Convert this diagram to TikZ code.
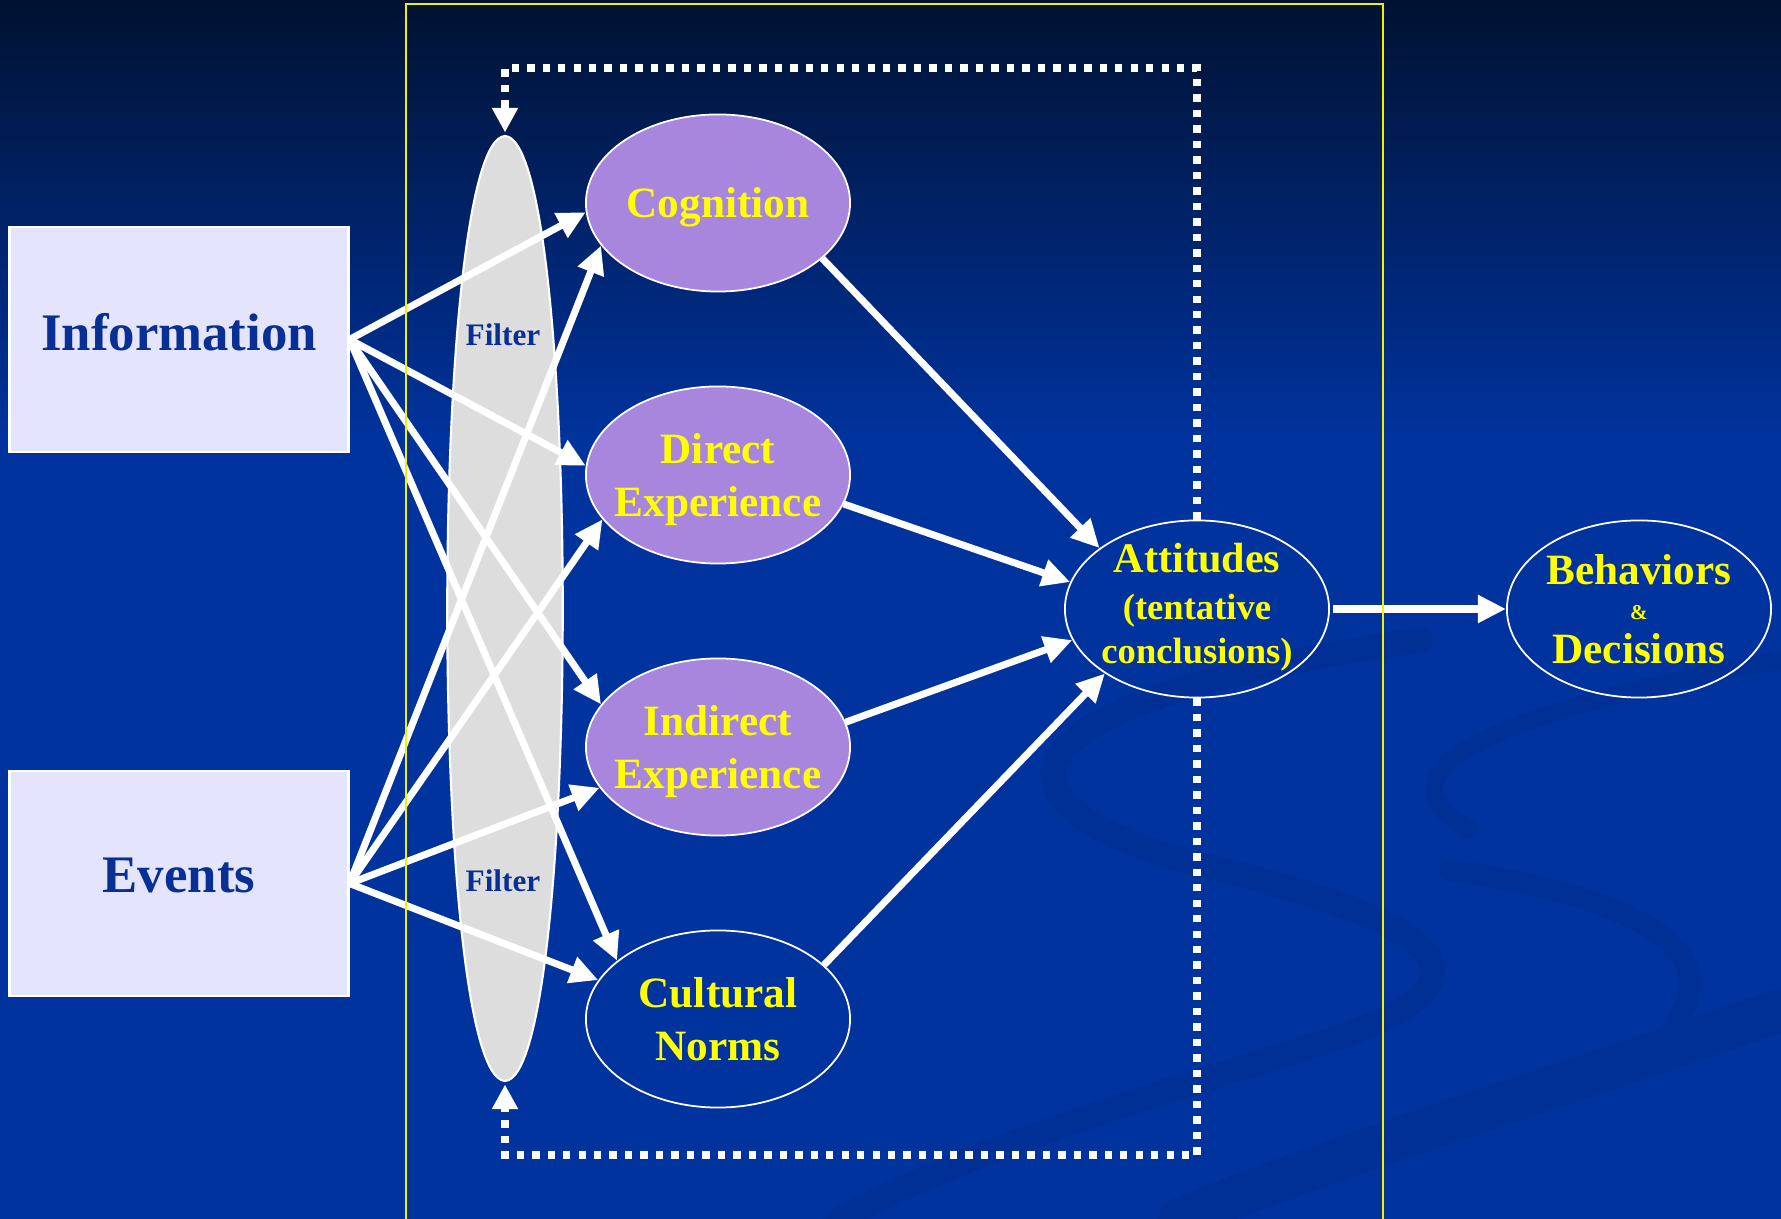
\documentclass[tikz,border=0pt]{standalone}
\usepackage{fontspec}
\setmainfont{Liberation Serif}
\usetikzlibrary{shapes.geometric, arrows.meta}

\definecolor{bgtop}{RGB}{0,18,50}
\definecolor{bgbot}{RGB}{0,51,158}
\definecolor{swirl}{RGB}{0,48,150}
\definecolor{boxfill}{RGB}{228,228,252}
\definecolor{boxtext}{RGB}{8,48,148}
\definecolor{bubblefill}{RGB}{168,134,222}
\definecolor{filtergray}{RGB}{221,221,221}
\definecolor{frameyellow}{RGB}{240,240,0}
\definecolor{labelyellow}{RGB}{255,255,0}

\pgfdeclareverticalshading{bgshade}{100bp}{color(0bp)=(bgbot); color(25bp)=(bgbot); color(57bp)=(bgbot); color(75bp)=(bgtop); color(100bp)=(bgtop)}

\newcommand{\smallline}[1]{{\fontsize{10.4}{12.5}\selectfont #1}}

\tikzset{
  infobox/.style={rectangle, draw=white, line width=0.8pt, fill=boxfill,
    minimum width=3.38cm, minimum height=2.25cm, text=boxtext, text depth=4.5pt,
    font=\fontsize{15}{18}\selectfont\bfseries},
  bubble/.style={ellipse, draw=white, line width=0.5pt,
    minimum width=2.64cm, minimum height=1.77cm, inner xsep=-12pt, inner ysep=-4pt,
    align=center, text=labelyellow, text depth=0pt, font=\fontsize{12.3}{14.8}\selectfont\bfseries},
  filterlabel/.style={text=boxtext, font=\fontsize{8.9}{10}\selectfont\bfseries, inner sep=0pt},
  flow/.style={white, line width=2pt, -{Triangle[length=8pt,width=7.5pt]}},
  feedback/.style={white, line width=2.1pt, dash pattern=on 2.1pt off 2.3pt,
    -{Triangle[length=7pt,width=7pt]}, shorten >=1pt},
  swirlband/.style={draw=swirl, line cap=round}
}

\begin{document}
\begin{tikzpicture}[x=0.01cm, y=-0.01cm]

        % --- BACKGROUND ---
        \useasboundingbox (0,0) rectangle (1781,1219);
        \shade[shading=bgshade] (0,0) rectangle (1781,1219);
        \draw[swirlband, line width=7pt] (1420,640) .. controls (1000,700) and (960,800) .. (1200,865) .. controls (1480,930) and (1500,990) .. (1300,1050) .. controls (1100,1110) and (950,1160) .. (840,1219);
        \draw[swirlband, line width=5pt] (1781,660) .. controls (1450,720) and (1380,780) .. (1470,830);
        \draw[swirlband, line width=6pt] (1450,870) .. controls (1650,900) and (1760,960) .. (1640,1060);
        \draw[swirlband, line width=12pt] (1781,1010) .. controls (1550,1090) and (1350,1150) .. (1180,1219);

        % --- SOURCES (LEFT) ---
        \node[infobox] (Information) at (179,339.5) {Information};
        \node[infobox] (Events) at (179,883.5) {Events};

        % FILTER
        \coordinate (FilterTop) at (505,136);
        \coordinate (FilterBot) at (505,1081);
        \draw[white, line width=0.6pt, fill=filtergray] (FilterTop) .. controls (582,140) and (582,1077) .. (FilterBot) .. controls (428,1077) and (428,140) .. (FilterTop) -- cycle;
        \node[filterlabel] (FilterUp) at (503,335) {Filter};
        \node[filterlabel] (FilterDown) at (503,881) {Filter};

        % --- INFLUENCES (MIDDLE) ---
        \node[bubble, fill=bubblefill] (Cognition) at (718,203) {Cognition};
        \node[bubble, fill=bubblefill] (Direct) at (718,475) {Direct\\Experience};
        \node[bubble, fill=bubblefill] (Indirect) at (718,747) {Indirect\\Experience};
        \node[bubble] (Cultural) at (718,1019) {Cultural\\Norms};

        % --- RESULTS (RIGHT) ---
        \node[bubble, text depth=3pt] (Attitudes) at (1197,609) {{\fontsize{12}{13}\selectfont Attitudes}\\[-1.6pt]\smallline{(tentative}\\[-2.2pt]\smallline{conclusions)}};
        \node[bubble] (Behaviors) at (1639,609) {Behaviors\\[-4.9pt]{\fontsize{6}{6}\selectfont\&}\\[-2.3pt]Decisions};

        % ARROWS
        % 1. Information and Events through the filter
        \foreach \target/\ang in {Cognition/184, Direct/176, Indirect/160, Cultural/150}
            \draw[flow] (Information.east) -- (\target.\ang);
        \foreach \target/\ang in {Cognition/200, Direct/201, Indirect/199, Cultural/162}
            \draw[flow] (Events.east) -- (\target.\ang);

        % 2. Influences to attitudes
        \draw[flow] (Cognition.-28) -- (Attitudes.148);
        \draw[flow] (Direct.-13) -- (Attitudes.168);
        \draw[flow] (Indirect.11) -- (Attitudes.194);
        \draw[flow] (Cultural.27) -- (Attitudes.215);

        % 3. Attitudes to behaviors
        \draw[flow, shorten <=1pt] (Attitudes.east) -- (Behaviors.west);

        % 4. Feedback loops (dotted)
        \coordinate (LoopTop) at (505,68);
        \coordinate (LoopBot) at (505,1155);
        \draw[feedback] (Attitudes.north) -- (Attitudes.north |- LoopTop) -- (LoopTop) -- (FilterTop);
        \draw[feedback] (Attitudes.south) -- (Attitudes.south |- LoopBot) -- (LoopBot) -- (FilterBot);

        % FRAME
        \draw[frameyellow, line width=0.45pt] (406,1219) -- (406,4) -- (1383,4) -- (1383,1219);

\end{tikzpicture}
\end{document}
